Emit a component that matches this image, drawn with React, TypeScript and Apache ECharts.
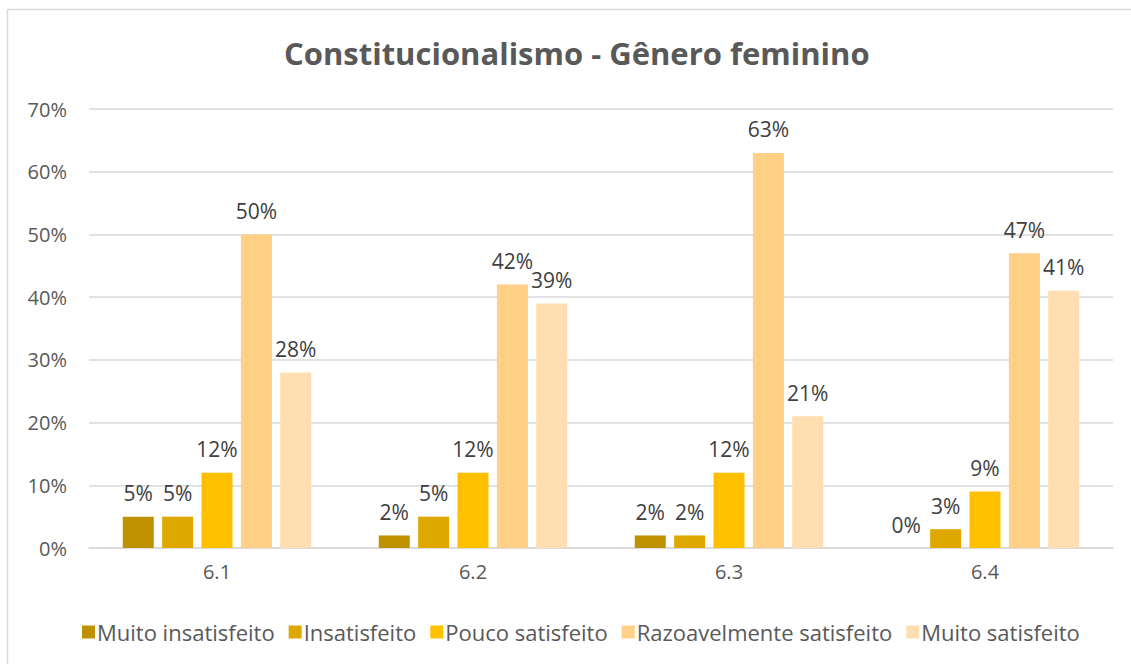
import React, { useEffect, useRef } from "react";
import * as echarts from "echarts";

const categories = ["6.1", "6.2", "6.3", "6.4"];
const seriesNames = [
  "Muito insatisfeito",
  "Insatisfeito",
  "Pouco satisfeito",
  "Razoavelmente satisfeito",
  "Muito satisfeito",
];
const muitoInsatisfeito = [5, 2, 2, 0];
const insatisfeito = [5, 5, 2, 3];
const poucoSatisfeito = [12, 12, 12, 9];
const razoavelmenteSatisfeito = [50, 42, 63, 47];
const muitoSatisfeito = [28, 39, 21, 41];
const colors = ["#BF9000", "#DFA800", "#FFC000", "#FFD085", "#FFDFB2"];

export default function App() {
  const ref = useRef<HTMLDivElement>(null);
  useEffect(() => {
    if (!ref.current) return;
    const chart = echarts.init(ref.current, null, { renderer: "svg" });
    const data = [muitoInsatisfeito, insatisfeito, poucoSatisfeito, razoavelmenteSatisfeito, muitoSatisfeito];
    const font = "'Open Sans', 'Liberation Sans', sans-serif";
    chart.setOption({
      animation: false,
      backgroundColor: "#ffffff",
      textStyle: { fontFamily: font },
      title: {
        text: "Constitucionalismo - Gênero feminino",
        left: 279,
        top: 32,
        textStyle: { fontSize: 31, fontWeight: "bold", color: "#595959", fontFamily: font },
      },
      graphic: [
        {
          type: "rect",
          shape: { x: 7.5, y: 9.5, width: 1140, height: 700 },
          style: { fill: "none", stroke: "#D9D9D9", lineWidth: 1.5 },
          silent: true,
        },
      ],
      legend: {
        bottom: 16,
        left: 77,
        itemWidth: 13,
        itemHeight: 13,
        itemGap: 14,
        icon: "rect",
        textStyle: { fontSize: 22, color: "#595959", fontFamily: font, padding: [0, 0, 0, -3] },
        data: seriesNames,
      },
      grid: { left: 89, right: 18, top: 109, bottom: 116, containLabel: false },
      xAxis: {
        type: "category",
        data: categories,
        axisTick: { show: false },
        axisLine: { lineStyle: { color: "#D9D9D9", width: 1.5 } },
        axisLabel: { fontSize: 20, color: "#595959", margin: 13 },
      },
      yAxis: {
        type: "value",
        min: 0,
        max: 70,
        interval: 10,
        axisLabel: { formatter: "{value}%", fontSize: 20, color: "#595959", margin: 22 },
        splitLine: { lineStyle: { color: "#D9D9D9", width: 1.5 } },
        axisLine: { show: false },
        axisTick: { show: false },
      },
      series: seriesNames.map((name, i) => ({
        name,
        type: "bar",
        data: data[i],
        barWidth: 31,
        barGap: "27%",
        itemStyle: { color: colors[i] },
        label: {
          show: true,
          position: "top",
          distance: 13,
          formatter: "{c}%",
          fontSize: 21,
          color: "#404040",
        },
      })),
    });
    return () => chart.dispose();
  }, []);
  return (
    <div
      ref={ref}
      style={{ position: "fixed", left: 0, top: 0, width: 1131, height: 664 }}
    />
  );
}
